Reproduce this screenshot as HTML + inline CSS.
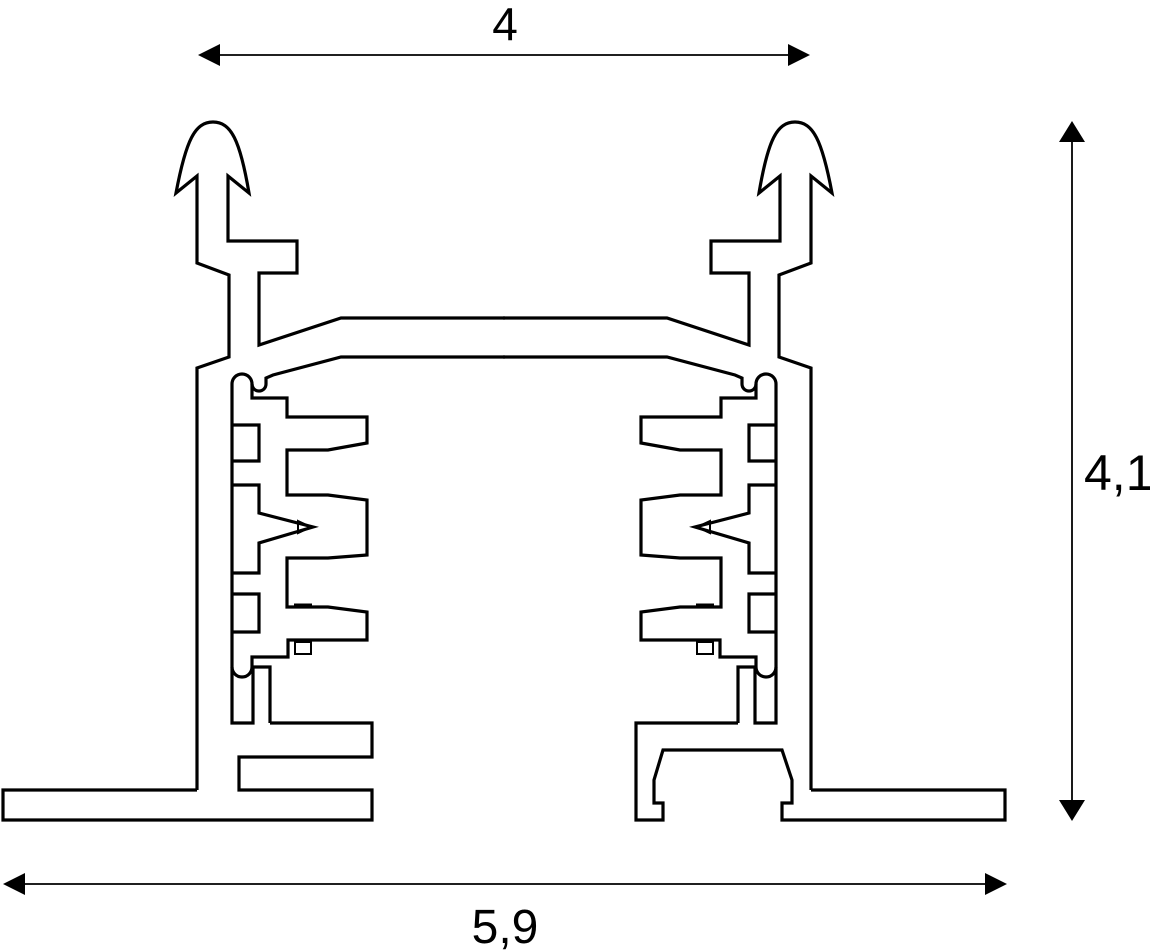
<!DOCTYPE html>
<html><head><meta charset="utf-8"><style>
html,body{margin:0;padding:0;background:#fff;}
svg{display:block}
text{font-family:"Liberation Sans",Arial,sans-serif;fill:#000}
</style></head><body>
<svg width="1150" height="951" viewBox="0 0 1150 951" xmlns="http://www.w3.org/2000/svg">
<defs>
<g id="half" fill="none" stroke="#000" stroke-width="3.2" stroke-linejoin="miter">
  <path d="M197,790 L197,368 L229,357 L229,275 L197,263 L197,176 L176,193 C186,140 195,122 213,122 C231,122 240,140 249,193 L228,176 L228,241 L297,241 L297,273 L259,273 L259,345 L341,318 L505,318"/>
  <path d="M505,357 L341,357 L273,375 L266,378 L266,384 A7 7 0 0 1 252,384 A10 10 0 0 0 232,384 L232,723 L253,723 L253,667 L270,667 L270,723"/>
  <path d="M252,384 L252,398 L287,398 L287,417 L367,417 L367,443 L328,450 L287,450 L287,495 L328,495 L367,500 L367,555 L328,558 L287,558 L287,607 L328,607 L367,612 L367,640 L288,640 L288,657 L252,657 L252,667"/>
  <path d="M232,667 A10 10 0 0 0 252,667"/>
  <path d="M232,425 H259 V461 H232 M232,485 H259 V513 L313,527 L259,543 V573 H232 M232,594 H259 V632 H232"/>
  <path d="M298,521 L311,527 L298,533 Z" stroke-width="2"/>
  <rect x="295" y="642" width="16" height="12" stroke-width="2"/>
  <path d="M294,605 H312" stroke-width="3"/>
</g>
</defs>
<use href="#half"/>
<use href="#half" transform="matrix(-1 0 0 1 1008 0)"/>
<g fill="none" stroke="#000" stroke-width="3.2">
  <path d="M270,723 L372,723 L372,757 L239,757 L239,790 L372,790 L372,820 L3,820 L3,790 L197,790"/>
  <path d="M738,723 L636,723 L636,820 L663,820 L663,803 L654,803 L654,780 L663,750 L782,750 L792,780 L792,803 L782,803 L782,820 L1005,820 L1005,790 L811,790"/>
</g>
<g stroke="#000" stroke-width="1.8" fill="none">
  <line x1="215" y1="55" x2="792" y2="55"/>
  <line x1="1072" y1="138" x2="1072" y2="804"/>
  <line x1="20" y1="884" x2="990" y2="884"/>
</g>
<g fill="#000">
  <polygon points="198,55 220,44 220,66"/>
  <polygon points="810,55 788,44 788,66"/>
  <polygon points="1072,121 1059,142 1085,142"/>
  <polygon points="1072,821 1059,800 1085,800"/>
  <polygon points="3,884 25,873 25,895"/>
  <polygon points="1007,884 985,873 985,895"/>
</g>
<text x="505" y="40" font-size="46" text-anchor="middle">4</text>
<text x="1084" y="490" font-size="50">4,1</text>
<text x="505" y="943" font-size="48" text-anchor="middle">5,9</text>
</svg>
</body></html>
